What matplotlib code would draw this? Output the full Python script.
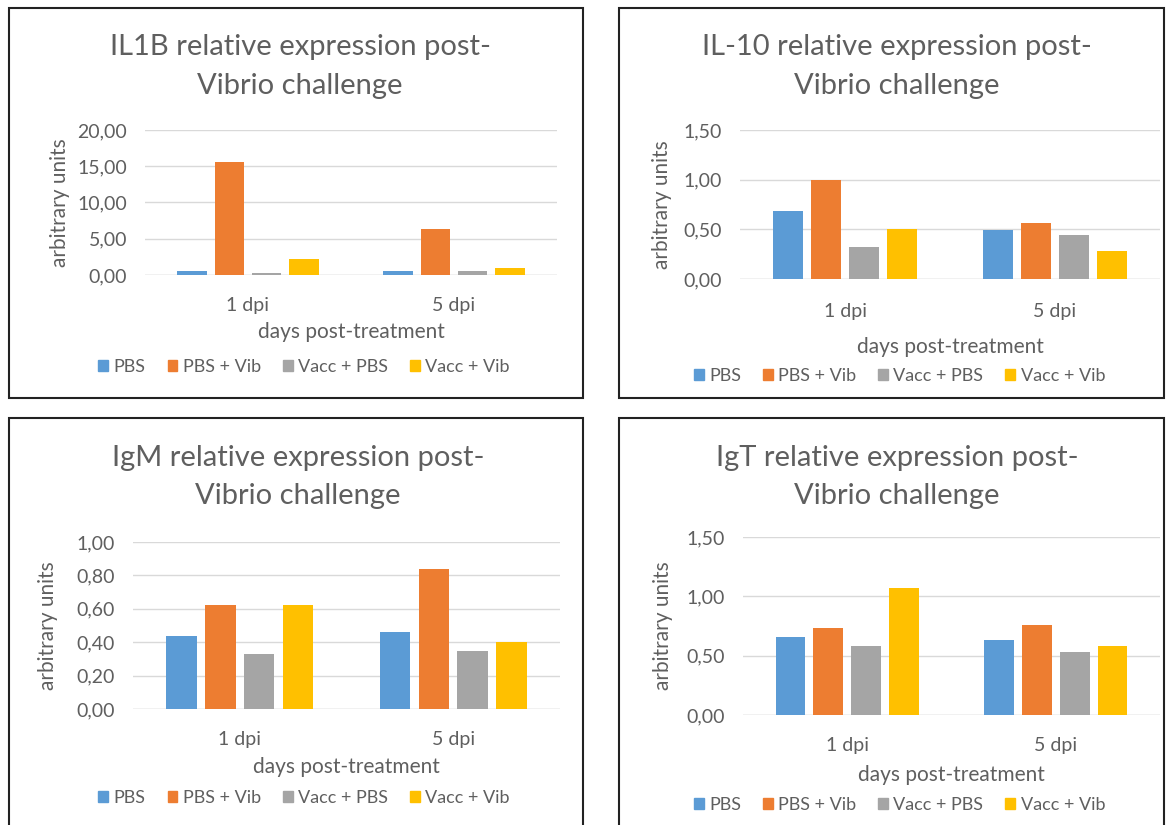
import matplotlib
matplotlib.use("Agg")
import matplotlib.pyplot as plt
import matplotlib.patches as mpatches
import numpy as np

plt.rcParams["font.family"] = ["Lato", "DejaVu Sans"]

# groups and treatments
days = ["1 dpi", "5 dpi"]
treatments = ["PBS", "PBS + Vib", "Vacc + PBS", "Vacc + Vib"]
colors = ["#5B9BD5", "#ED7D31", "#A5A5A5", "#FFC000"]

# relative expression, one list per treatment: [1 dpi, 5 dpi]
il1b = [[0.6, 0.6], [15.6, 6.4], [0.3, 0.5], [2.2, 1.0]]
il10 = [[0.68, 0.49], [1.00, 0.56], [0.32, 0.44], [0.50, 0.28]]
igm = [[0.44, 0.46], [0.62, 0.84], [0.33, 0.35], [0.62, 0.40]]
igt = [[0.66, 0.63], [0.73, 0.76], [0.58, 0.53], [1.07, 0.58]]

W, H = 1166, 825
TXT = "#5F5F5F"
GRID = "#D9D9D9"

fig = plt.figure(figsize=(W / 100, H / 100), dpi=100)


def fx(px):
    return px / W


def fy(py):
    return 1 - py / H


# positions in pixels: box = frame, ax = (left, right, top, bottom) of plot area
panels = [
    dict(name="IL1B", data=il1b, ymax=20, step=5, box=(9, 583, 8, 398),
         ax=(145, 557, 130, 275), ty=(47, 86), tx=300, ylx=60,
         xt_y=305, xlab_y=332, leg_y=367),
    dict(name="IL-10", data=il10, ymax=1.5, step=0.5, box=(619, 1164, 8, 398),
         ax=(740, 1160, 130, 279), ty=(47, 86), tx=897, ylx=662,
         xt_y=311, xlab_y=347, leg_y=376),
    dict(name="IgM", data=igm, ymax=1.0, step=0.2, box=(9, 583, 418, 840),
         ax=(133, 560, 542, 709), ty=(458, 496), tx=298, ylx=48,
         xt_y=740, xlab_y=767, leg_y=798),
    dict(name="IgT", data=igt, ymax=1.5, step=0.5, box=(619, 1164, 418, 840),
         ax=(743, 1160, 537, 715), ty=(458, 496), tx=897, ylx=663,
         xt_y=746, xlab_y=775, leg_y=805),
]

# Excel-style clustered bars: gap width 219%, overlap -27%
w = 1 / 7
step = 1.27 / 7
x = np.arange(len(days))

for p in panels:
    bx0, bx1, by0, by1 = p["box"]
    fig.patches.append(mpatches.Rectangle((fx(bx0), fy(by1)), fx(bx1 - bx0), (by1 - by0) / H,
                                          transform=fig.transFigure, fill=False,
                                          edgecolor="#222222", linewidth=1.5))

    x0, x1, yt, yb = p["ax"]
    ax = fig.add_axes([fx(x0), fy(yb), fx(x1 - x0), (yb - yt) / H])
    for i, vals in enumerate(p["data"]):
        ax.bar(x + (i - 1.5) * step, vals, width=w, color=colors[i], edgecolor="none", zorder=3)

    ax.set_xlim(-0.5, 1.5)
    ax.set_ylim(0, p["ymax"])
    yt_vals = np.arange(0, p["ymax"] + p["step"] / 2, p["step"])
    ax.set_yticks(yt_vals)
    ax.set_yticklabels([f"{v:.2f}".replace(".", ",") for v in yt_vals])
    ax.set_xticks([])
    ax.tick_params(axis="y", length=0, pad=13, labelsize=14, labelcolor=TXT)
    ax.grid(axis="y", color=GRID, linewidth=1, zorder=0)
    for s in ax.spines.values():
        s.set_visible(False)
    ax.axhline(0, color=GRID, linewidth=1, zorder=2)

    for xi, d in zip(x, days):
        xpix = x0 + (xi + 0.5) / 2 * (x1 - x0)
        fig.text(fx(xpix), fy(p["xt_y"]), d, ha="center", va="center",
                 fontsize=14, color=TXT)

    fig.text(fx(p["tx"]), fy(p["ty"][0]), f"{p['name']} relative expression post-",
             ha="center", va="center", fontsize=21, color=TXT)
    fig.text(fx(p["tx"]), fy(p["ty"][1]), "Vibrio challenge",
             ha="center", va="center", fontsize=21, color=TXT)
    fig.text(fx(p["ylx"]), fy((yt + yb) / 2), "arbitrary units", rotation=90,
             ha="center", va="center", fontsize=15, color=TXT)
    fig.text(fx((x0 + x1) / 2), fy(p["xlab_y"]), "days post-treatment",
             ha="center", va="center", fontsize=15, color=TXT)

    handles = [mpatches.Patch(color=c, label=t) for c, t in zip(colors, treatments)]
    fig.legend(handles=handles, loc="center", ncol=4, frameon=False,
               bbox_to_anchor=(fx((bx0 + bx1) / 2 + 8), fy(p["leg_y"])),
               fontsize=13, labelcolor=TXT, handlelength=0.55, handleheight=0.6,
               handletextpad=0.3, columnspacing=1.2)

fig.savefig("out.png", dpi=100, facecolor="white")
